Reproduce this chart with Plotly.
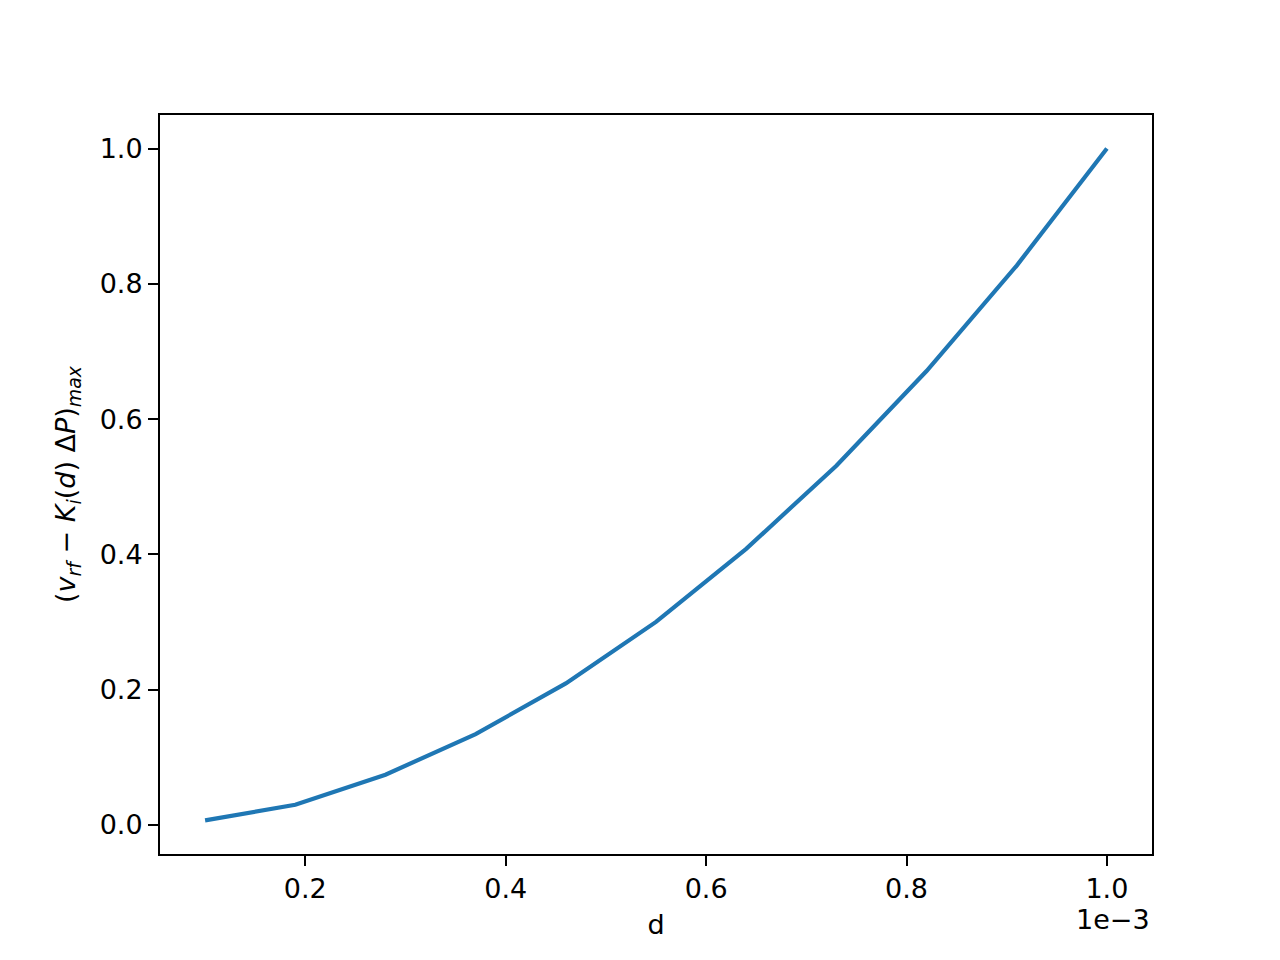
import plotly.graph_objects as go

# data (d in metres; displayed with 1e-3 offset)
d_values = [0.10e-3, 0.19e-3, 0.28e-3, 0.37e-3, 0.46e-3, 0.55e-3, 0.64e-3, 0.73e-3, 0.82e-3, 0.91e-3, 1.00e-3]
y_values = [0.0064, 0.0295, 0.074, 0.134, 0.209, 0.300, 0.408, 0.531, 0.671, 0.827, 1.000]
x_ticks = [0.2, 0.4, 0.6, 0.8, 1.0]
y_ticks = [0.0, 0.2, 0.4, 0.6, 0.8, 1.0]
scale = 1e-3

x_plot = [v / scale for v in d_values]

FONT = "DejaVu Sans"
FS = 27

fig = go.Figure()
fig.add_trace(go.Scatter(x=x_plot, y=y_values, mode="lines",
                         line=dict(color="#1f77b4", width=4.2), showlegend=False))

xr = (min(x_plot), max(x_plot))
yr = (min(y_values), max(y_values))
xm = 0.05 * (xr[1] - xr[0])
ym = 0.05 * (yr[1] - yr[0])

axis_common = dict(showgrid=False, zeroline=False, showline=True, linecolor="black",
                   linewidth=2, mirror=True, ticks="outside", ticklen=10, tickwidth=2,
                   tickcolor="black", tickfont=dict(family=FONT, size=FS, color="black"))

fig.update_xaxes(range=[xr[0] - xm, xr[1] + xm], tickvals=x_ticks,
                 ticktext=[f"{t:.1f}" for t in x_ticks],
                 title=dict(text="d", font=dict(family=FONT, size=FS, color="black"), standoff=12),
                 **axis_common)
fig.update_yaxes(range=[yr[0] - ym, yr[1] + ym], tickvals=y_ticks,
                 ticktext=[f"{t:.1f}" for t in y_ticks],
                 title=dict(text="(<i>v</i><sub><i>rf</i></sub> − <i>K</i><sub><i>i</i></sub>(<i>d</i>) Δ<i>P</i>)<sub><i>max</i></sub>",
                            font=dict(family=FONT, size=FS, color="black"), standoff=16),
                 **axis_common)

fig.add_annotation(text="1e−3", xref="paper", yref="paper", x=1.0, y=0, xanchor="right",
                   yanchor="top", yshift=-48, showarrow=False,
                   font=dict(family=FONT, size=FS, color="black"))

fig.update_layout(width=1280, height=960, paper_bgcolor="white", plot_bgcolor="white",
                  margin=dict(l=152, r=136, t=107, b=114, autoexpand=False),
                  font=dict(family=FONT, size=FS, color="black"))

fig.write_html("out.html")
